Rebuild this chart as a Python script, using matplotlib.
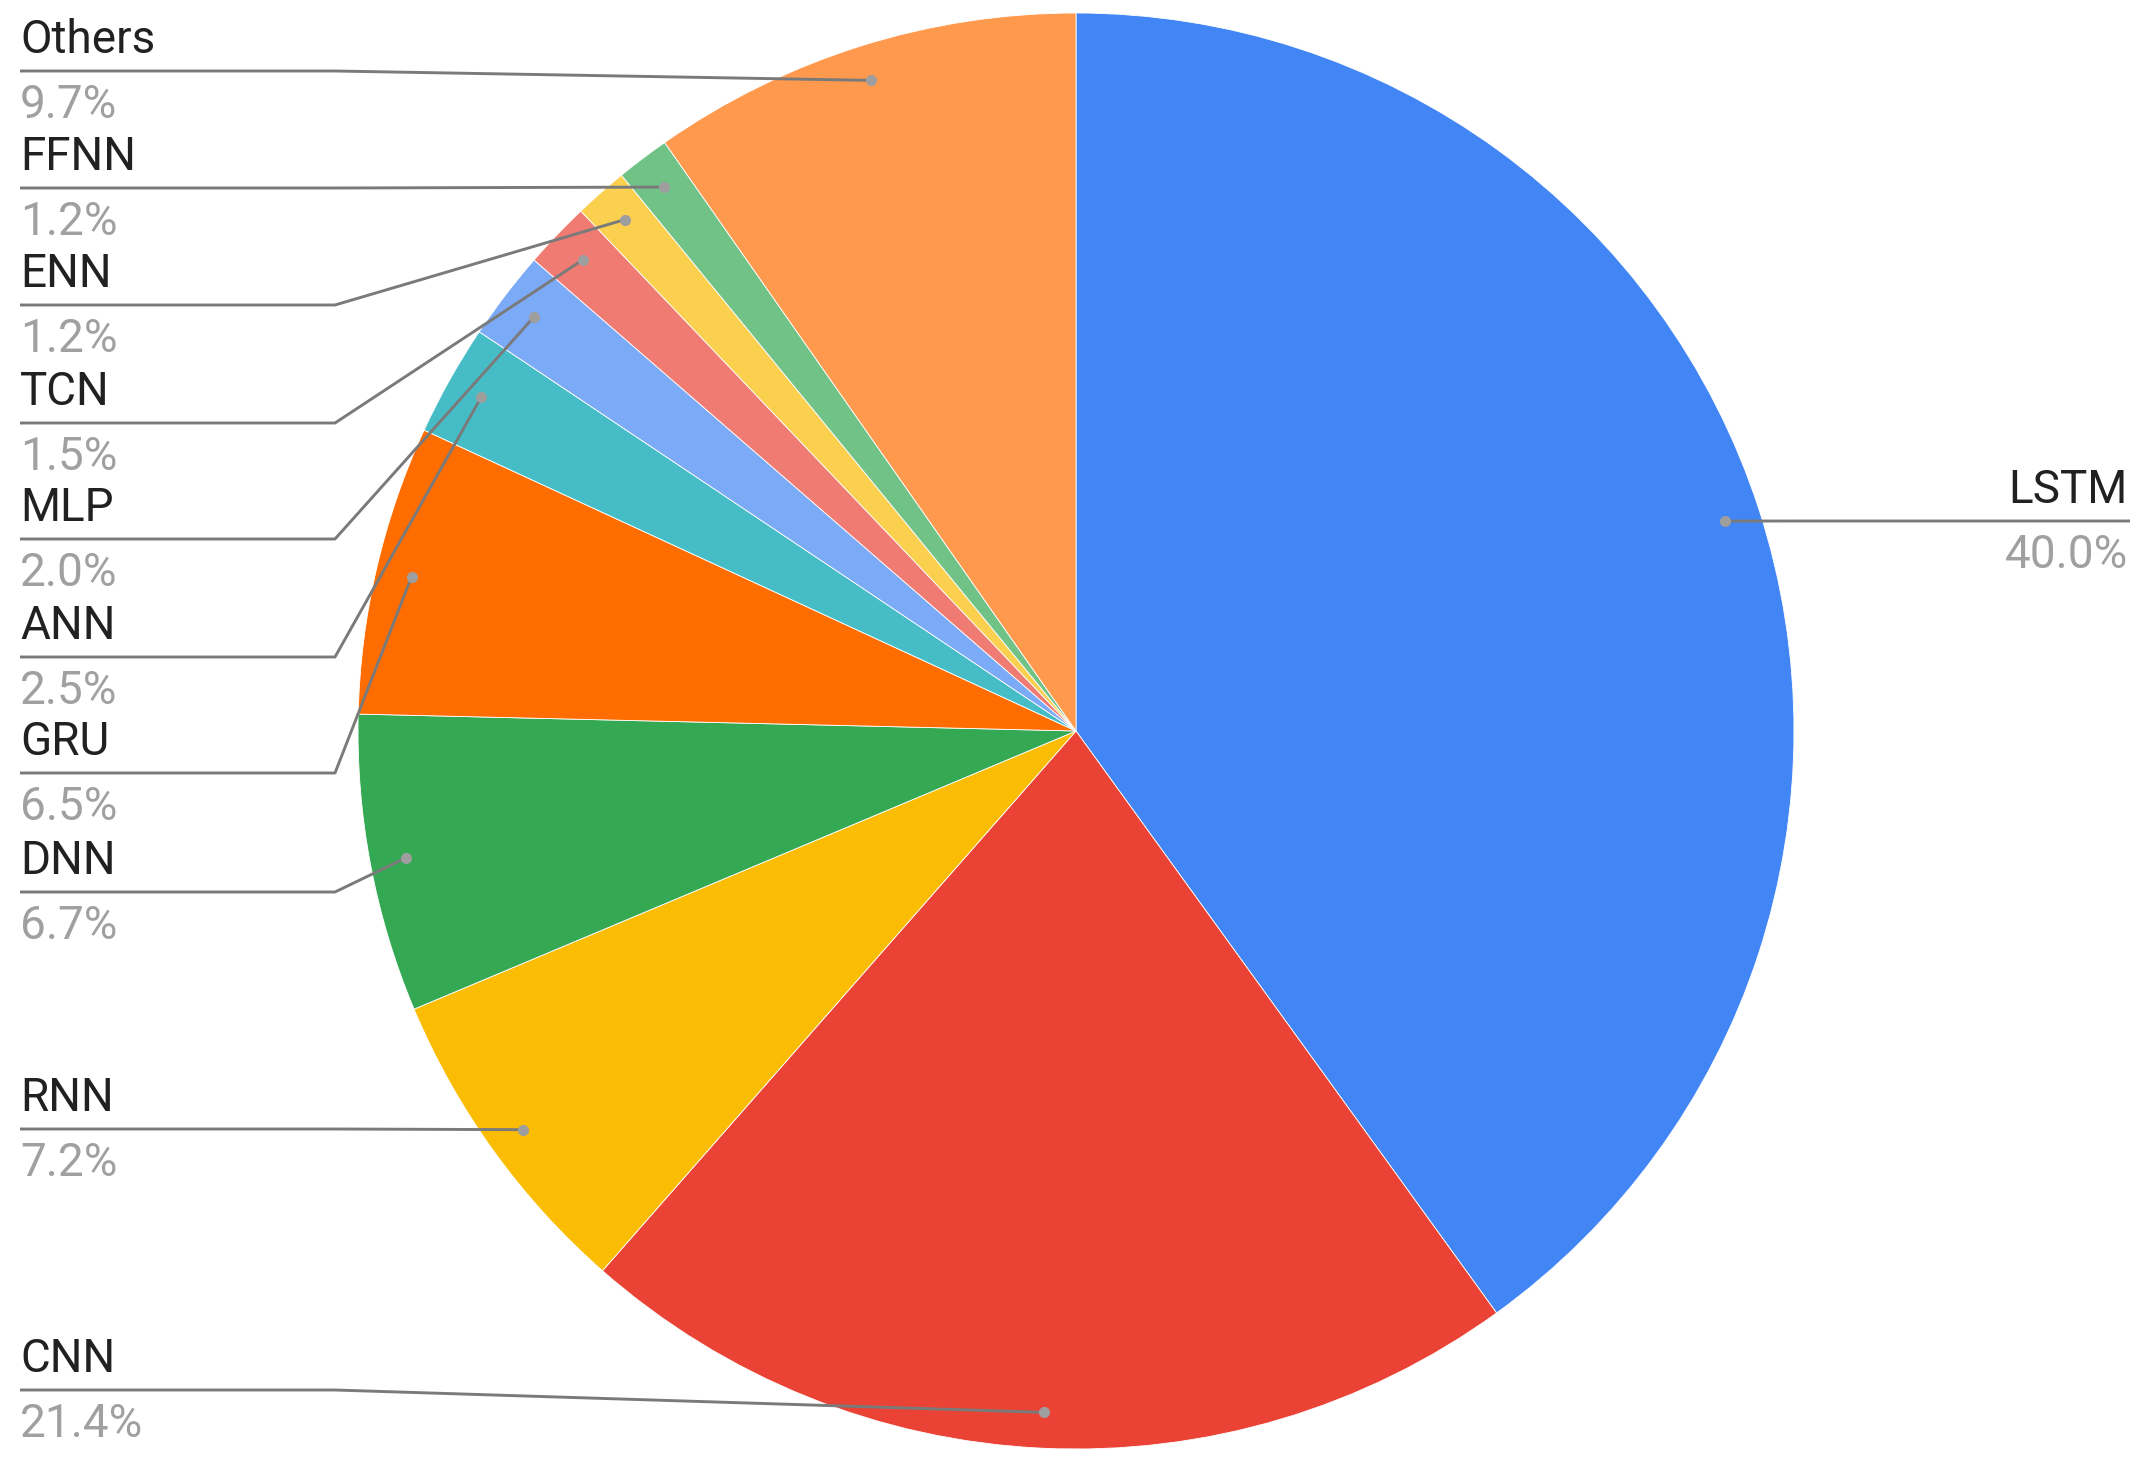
import numpy as np
import matplotlib
matplotlib.use('Agg')
import matplotlib.pyplot as plt

plt.rcParams['font.family'] = ['Roboto', 'DejaVu Sans']

# ============================================================
# data
# ============================================================
models = ['LSTM', 'CNN', 'RNN', 'DNN', 'GRU', 'ANN', 'MLP', 'TCN', 'ENN', 'FFNN', 'Others']
shares = [40.0, 21.4, 7.2, 6.7, 6.5, 2.5, 2.0, 1.5, 1.2, 1.2, 9.7]
colors = ['#4285F4', '#EA4335', '#FBBC04', '#34A853', '#FF6D01', '#46BDC6',
          '#7BAAF7', '#F07B72', '#FCD04F', '#71C287', '#FF994D']

# label layout (pixel rows of the underline, from the top)
label_y = {'LSTM': 521, 'CNN': 1390, 'RNN': 1129, 'DNN': 892, 'GRU': 773,
           'ANN': 657, 'MLP': 539, 'TCN': 423, 'ENN': 305, 'FFNN': 188, 'Others': 71}

W, H = 2147, 1468
cx, cy, r = 1076, 731, 718
LINE = '#7A7A7A'

fig = plt.figure(figsize=(W / 100, H / 100), dpi=100)
ax = fig.add_axes([0, 0, 1, 1])

ax.pie(shares, colors=colors, startangle=90, counterclock=False,
       center=(cx, H - cy), radius=r,
       wedgeprops=dict(linewidth=0.6, edgecolor='white'))

ax.set_xlim(0, W)
ax.set_ylim(0, H)
ax.set_aspect('equal')
ax.axis('off')

total = sum(shares)
cum = np.cumsum([0] + shares[:-1])
for name, v, c0 in zip(models, shares, cum):
    ang = np.radians(90 - 360 * (c0 + v / 2) / total)
    dx = cx + 0.95 * r * np.cos(ang)
    dy = (H - cy) + 0.95 * r * np.sin(ang)
    uy = H - label_y[name]
    pct = f'{v / total * 100:.1f}%'
    if np.cos(ang) > 0:
        x_end, x_bend = 2130, 1812
        ax.plot([x_end, x_bend, dx], [uy, uy, dy], color=LINE, lw=2.1,
                solid_capstyle='butt', zorder=4)
        ax.text(2128, uy + 18, name, ha='right', va='baseline',
                fontsize=33, color='#212121')
        ax.text(2128, uy - 47, pct, ha='right', va='baseline',
                fontsize=33, color='#A0A0A0')
    else:
        x_start, x_bend = 20, 335
        ax.plot([x_start, x_bend, dx], [uy, uy, dy], color=LINE, lw=2.1,
                solid_capstyle='butt', zorder=4)
        ax.text(20, uy + 18, name, ha='left', va='baseline',
                fontsize=33, color='#212121')
        ax.text(20, uy - 47, pct, ha='left', va='baseline',
                fontsize=33, color='#A0A0A0')
    ax.plot(dx, dy, 'o', ms=8, color='#9E9E9E', mec='none', zorder=5)

plt.savefig('out.png', dpi=100)
